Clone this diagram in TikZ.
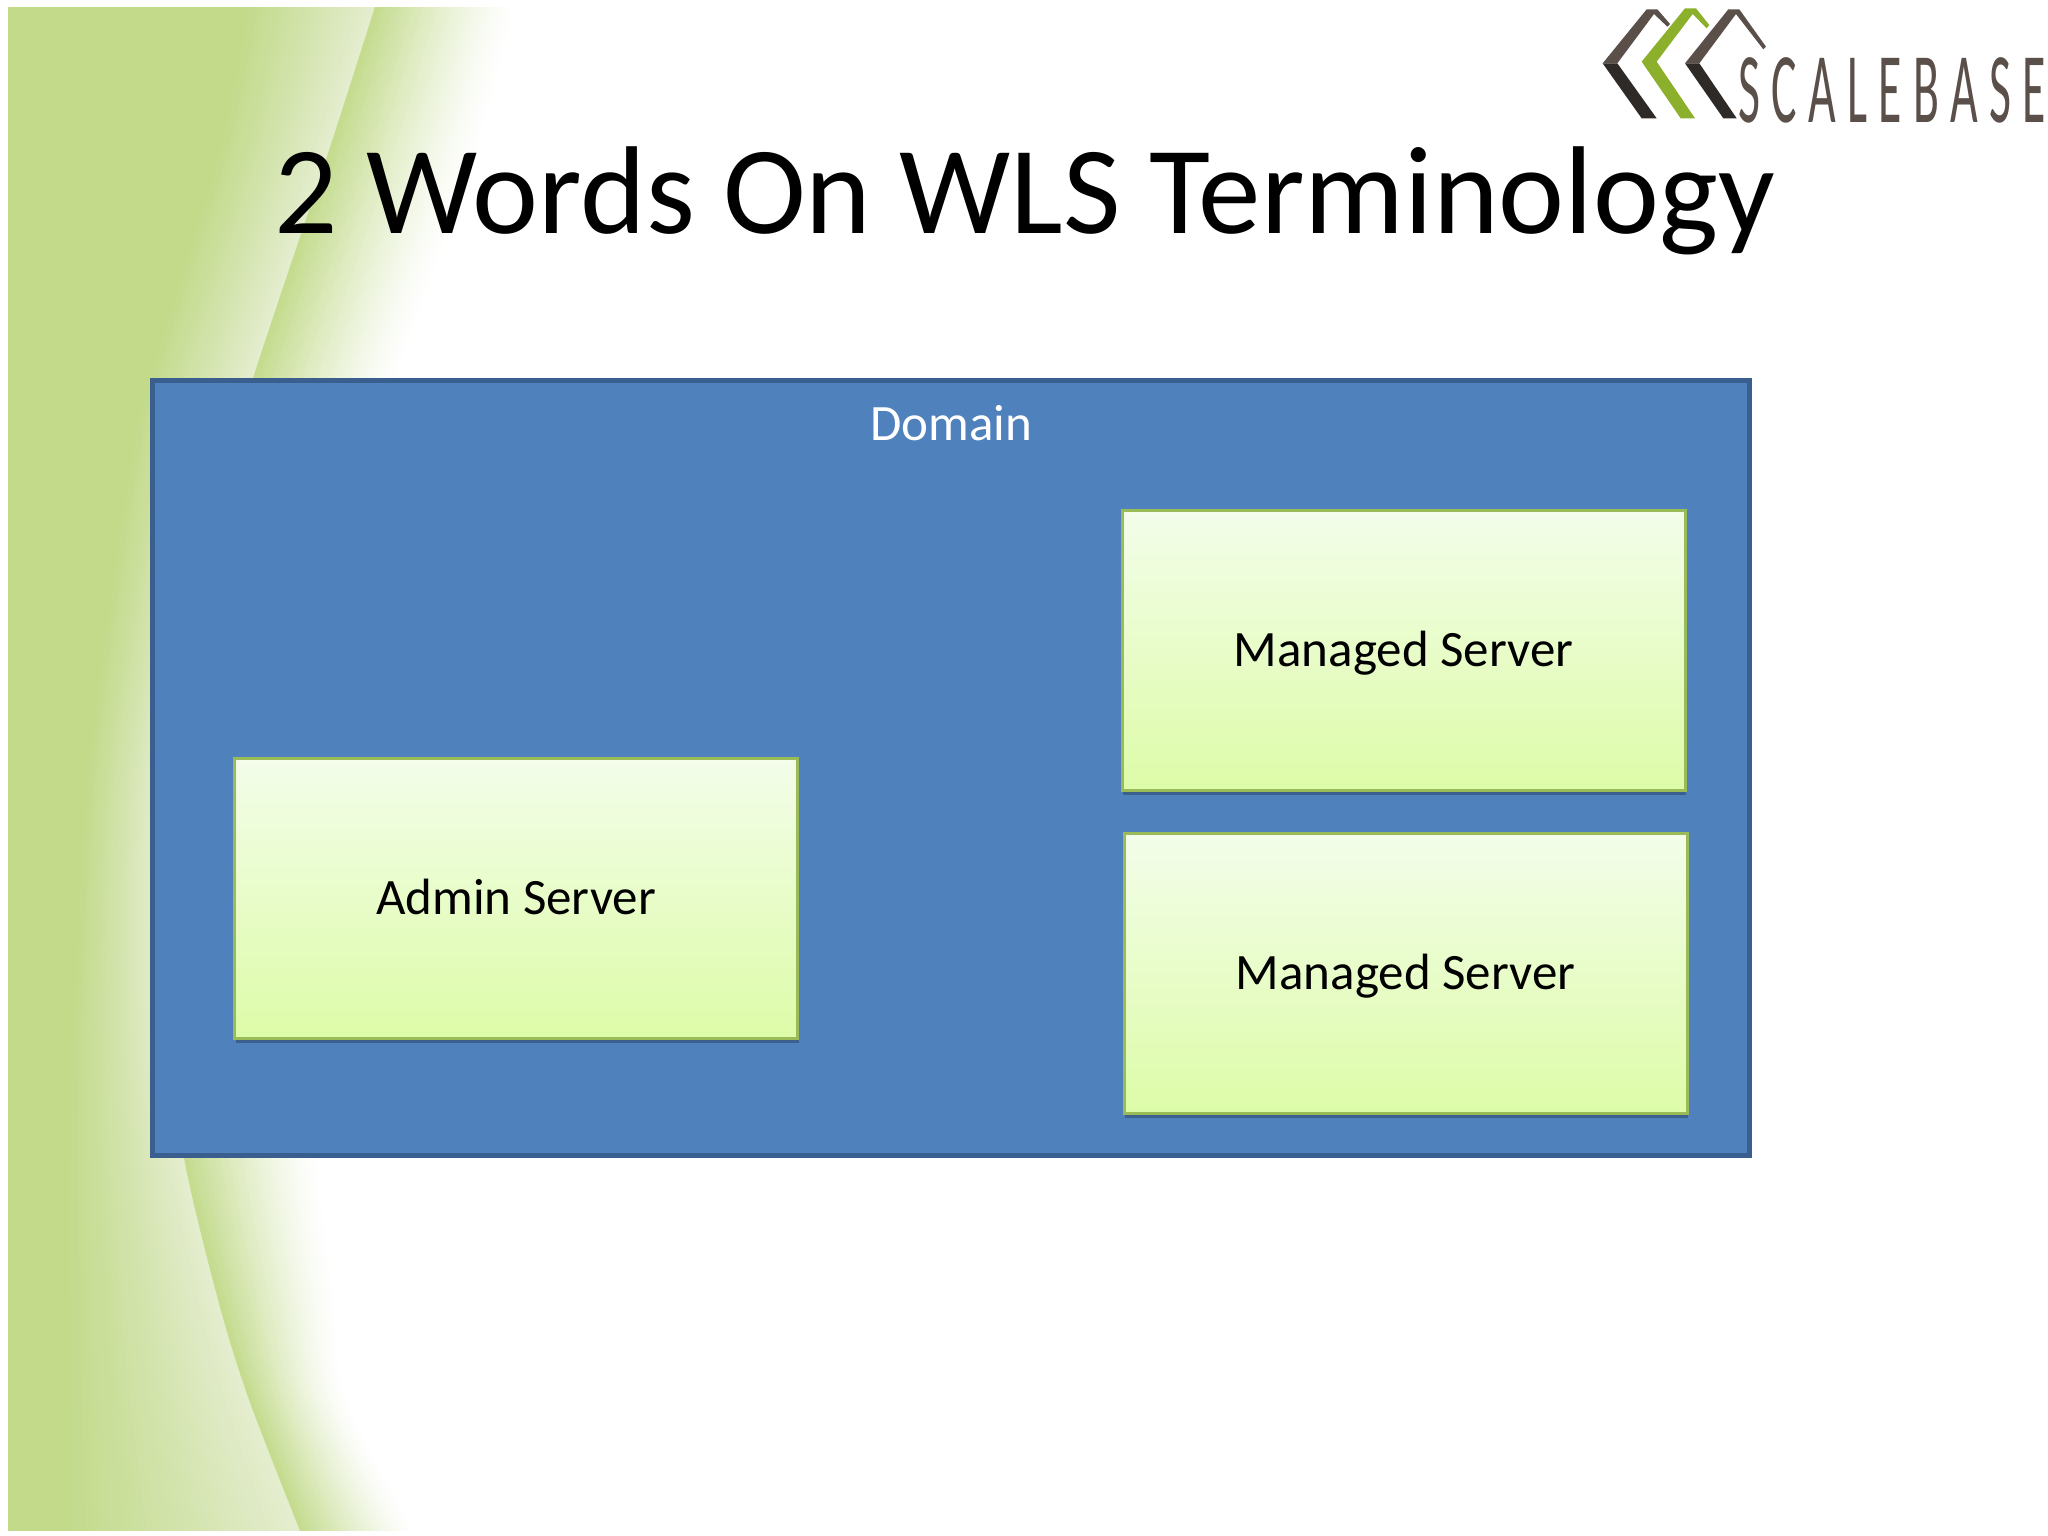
\documentclass[tikz,border=0pt]{standalone}
\usepackage{fontspec}
\setmainfont{Carlito}
\newfontfamily\logofont[LetterSpace=24]{Carlito}
\usetikzlibrary{shadows}
\definecolor{leafdark}{HTML}{C2DA8A}
\definecolor{leafedge}{HTML}{E4EDCE}
\definecolor{domainblue}{HTML}{4F81BD}
\definecolor{domainline}{HTML}{3A5F8E}
\definecolor{boxline}{HTML}{9BBB59}
\definecolor{boxtop}{HTML}{F3FDEA}
\definecolor{boxbot}{HTML}{DDFCA8}
\definecolor{logobrown}{HTML}{5A4F49}
\definecolor{logodark}{HTML}{2E2A28}
\definecolor{logogreen}{HTML}{8DB02C}
\tikzset{
  serverbox/.style={draw=boxline,line width=3pt,top color=boxtop,bottom color=boxbot,
    minimum width=563pt,minimum height=280pt,inner sep=0pt,text=black,
    text height=33pt,text depth=0pt,
    font=\fontsize{51}{60}\selectfont,
    drop shadow={shadow xshift=1pt,shadow yshift=-5pt,fill=black,opacity=.25}},
  domainbox/.style={draw=domainline,line width=5pt,fill=domainblue,
    minimum width=1597pt,minimum height=775pt,inner sep=0pt},
  titletext/.style={anchor=base,inner sep=0pt,text=black,font=\fontsize{125}{150}\selectfont},
  domaintext/.style={text=white,inner sep=0pt,font=\fontsize{51}{60}\selectfont}
}
\begin{document}
\begin{tikzpicture}[x=1pt,y=-1pt]
\useasboundingbox (0,0) rectangle (2048,1536);
\fill[white] (0,0) rectangle (2048,1536);
% leaf background
\begin{scope}
\clip (8,8) rectangle (1000,1530);
\foreach \k in {30,29,...,0}{
  \pgfmathsetmacro\t{\k/30}
  \pgfmathsetmacro\p{100*(1-\t)^1.3}
  \fill[leafdark!\p!white] (8,0) -- plot[smooth,tension=.5] coordinates {
    ({377+\t*143},0) ({329+\t*151},150) ({253+\t*147},378) ({228+\t*147},470) ({165+\t*135},760)
    ({163+\t*142},1000) ({184+\t*136},1158) ({218+\t*119},1300) ({249+\t*100},1400) ({302+\t*118},1536)} -- (8,1536) -- cycle;
}
\foreach \k in {0,1,...,30}{
  \pgfmathsetmacro\t{\k/30}
  \pgfmathsetmacro\p{100*\t}
  \fill[leafdark!\p!leafedge] (8,0) -- plot[smooth,tension=.5] coordinates {
    ({377-\t*127},0) ({329-\t*109},150) ({253-\t*103},378) ({228-\t*98},470) ({165-\t*75},760)
    ({163-\t*88},1000) ({184-\t*114},1158) ({218-\t*148},1300) ({249-\t*179},1400) ({302-\t*232},1536)} -- (8,1536) -- cycle;
}
\end{scope}
% logo
\begin{scope}[shift={(1560,0)},x=0.3333pt,y=-0.3333pt]
\fill[logobrown] (128,190) -- (260,28) -- (292,28) -- (330,72) -- (322,80) -- (282,42) -- (172,190) -- cycle;
\fill[logodark] (128,190) -- (172,190) -- (290,355) -- (245,355) -- cycle;
\fill[logogreen] (245,185) -- (375,25) -- (408,25) -- (448,75) -- (440,85) -- (398,42) -- (290,185) -- (405,355) -- (362,355) -- cycle;
\fill[logobrown] (375,190) -- (505,28) -- (538,28) -- (618,140) -- (610,148) -- (528,42) -- (418,190) -- cycle;
\fill[logodark] (375,190) -- (418,190) -- (530,355) -- (490,355) -- cycle;
\end{scope}
\node[name=logotext,anchor=base west,inner sep=0pt,text=logobrown,xscale=.477,yscale=1,font=\logofont\fontsize{100}{100}\selectfont] at (1738,123) {SCALEBASE};
% title
\node[titletext] (title) at (1025,233) {2 Words On WLS Terminology};
% diagram
\node[domainbox] (domain) at (951,768) {};
\node[domaintext] (domaintitle) at (951,423) {Domain};
\node[serverbox] (admin) at (516,898) {Admin Server};
\node[serverbox] (managedone) at (1403.5,650) {Managed Server};
\node[serverbox] (managedtwo) at (1405.5,973) {Managed Server};
\end{tikzpicture}
\end{document}
